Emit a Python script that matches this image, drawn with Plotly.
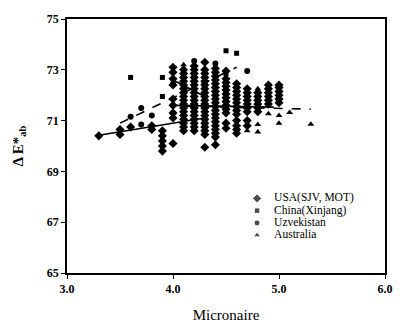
import plotly.graph_objects as go

# ---------------- data ----------------
usa_x = [3.3, 3.5, 3.5, 3.6, 3.8, 3.8, 3.9, 3.9, 3.9, 3.9, 3.9,
         4.0, 4.0, 4.0, 4.0, 4.0, 4.0, 4.0, 4.0, 4.0,
         4.1, 4.1, 4.1, 4.1, 4.1, 4.1, 4.1, 4.1, 4.1, 4.1, 4.1, 4.1, 4.1, 4.1, 4.1, 4.1, 4.1,
         4.2, 4.2, 4.2, 4.2, 4.2, 4.2, 4.2, 4.2, 4.2, 4.2, 4.2, 4.2, 4.2, 4.2, 4.2, 4.2, 4.2, 4.2,
         4.3, 4.3, 4.3, 4.3, 4.3, 4.3, 4.3, 4.3, 4.3, 4.3, 4.3, 4.3, 4.3, 4.3, 4.3, 4.3, 4.3, 4.3, 4.3, 4.3,
         4.4, 4.4, 4.4, 4.4, 4.4, 4.4, 4.4, 4.4, 4.4, 4.4, 4.4, 4.4, 4.4, 4.4, 4.4, 4.4, 4.4, 4.4, 4.4, 4.4,
         4.5, 4.5, 4.5, 4.5, 4.5, 4.5, 4.5, 4.5, 4.5, 4.5, 4.5, 4.5, 4.5,
         4.6, 4.6, 4.6, 4.6, 4.6, 4.6, 4.6, 4.6, 4.6, 4.6, 4.6, 4.6, 4.6,
         4.7, 4.7, 4.7, 4.7, 4.7, 4.7, 4.7, 4.7, 4.7,
         4.8, 4.8, 4.8, 4.8, 4.8, 4.8,
         4.9, 4.9, 4.9, 4.9, 4.9, 4.9,
         5.0, 5.0, 5.0, 5.0, 5.0, 5.0]
usa_y = [70.4, 70.45, 70.65, 70.75, 70.8, 70.65, 70.6, 70.4, 70.2, 70.0, 69.8,
         73.1, 72.9, 72.65, 72.4, 71.85, 71.6, 71.3, 71.1, 70.1,
         70.6, 70.75, 70.9, 71.05, 71.2, 71.35, 71.5, 71.65, 71.8, 71.95, 72.1, 72.25, 72.4, 72.55, 72.7, 72.85, 73.0,
         70.6, 70.75, 70.9, 71.05, 71.2, 71.35, 71.5, 71.65, 71.8, 71.95, 72.1, 72.25, 72.4, 72.55, 72.7, 72.85, 73.0, 73.15,
         69.95, 70.45, 70.6, 70.75, 70.9, 71.05, 71.2, 71.35, 71.5, 71.65, 71.8, 71.95, 72.1, 72.25, 72.4, 72.55, 72.7, 72.85, 73.0, 73.3,
         70.05, 70.35, 70.5, 70.65, 70.8, 70.95, 71.1, 71.25, 71.4, 71.55, 71.7, 71.85, 72.0, 72.15, 72.3, 72.45, 72.6, 72.75, 72.9, 73.05,
         70.7, 70.9, 71.3, 71.45, 71.6, 71.75, 71.9, 72.05, 72.2, 72.35, 72.5, 72.65, 72.95,
         70.5, 70.65, 70.8, 71.0, 71.25, 71.4, 71.55, 71.7, 71.85, 72.0, 72.15, 72.3, 72.45,
         70.8, 71.0, 71.35, 71.5, 71.65, 71.8, 71.95, 72.1, 72.25,
         71.5, 71.65, 71.8, 71.95, 72.1, 71.35,
         71.65, 71.8, 71.95, 72.1, 72.25, 72.4,
         71.7, 71.85, 72.0, 72.15, 72.3, 72.4]

uzb_x = [3.6, 3.7, 3.7, 3.8, 4.0, 4.2, 4.4, 4.7, 4.0]
uzb_y = [71.15, 71.5, 70.85, 71.2, 72.45, 73.35, 73.25, 72.95, 71.3]

chn_x = [3.6, 3.9, 3.9, 4.5, 4.6, 4.5]
chn_y = [72.7, 72.7, 71.95, 73.75, 73.65, 72.85]

aus_x = [4.1, 4.8, 4.7, 4.8, 4.8, 4.9, 5.0, 5.0, 5.1, 5.3]
aus_y = [73.2, 72.25, 70.6, 70.85, 70.55, 71.27, 71.2, 70.9, 71.32, 70.86]

# regression lines (end points)
fit_solid1_x = [3.3, 4.3]
fit_solid1_y = [70.42, 71.1]
fit_solid2_x = [4.0, 4.3]
fit_solid2_y = [72.6, 71.95]
fit_solid3_x = [4.0, 4.95]
fit_solid3_y = [71.6, 71.53]
fit_dash1_x = [3.5, 4.6]
fit_dash1_y = [70.9, 73.1]
fit_dash2_x = [4.1, 5.3]
fit_dash2_y = [71.57, 71.45]

legend_names = ["USA(SJV, MOT)", "China(Xinjang)", "Uzvekistan", "Australia"]
legend_symbols = ["diamond", "square", "circle", "triangle-up"]

# ---------------- figure ----------------
FONT = "Liberation Serif"
fig = go.Figure()

for lx, ly, dash in [(fit_solid1_x, fit_solid1_y, "solid"),
                     (fit_solid2_x, fit_solid2_y, "solid"),
                     (fit_dash2_x, fit_dash2_y, "dash"),
                     (fit_solid3_x, fit_solid3_y, "solid"),
                     (fit_dash1_x, fit_dash1_y, "dash")]:
    fig.add_trace(go.Scatter(x=lx, y=ly, mode="lines", showlegend=False,
                             line=dict(color="black", width=1.6, dash=dash)))

sizes = {"diamond": 7, "square": 5, "circle": 6, "triangle-up": 6}
for sx, sy, name, sym in [(usa_x, usa_y, legend_names[0], "diamond"),
                          (chn_x, chn_y, legend_names[1], "square"),
                          (uzb_x, uzb_y, legend_names[2], "circle"),
                          (aus_x, aus_y, legend_names[3], "triangle-up")]:
    fig.add_trace(go.Scatter(x=sx, y=sy, mode="markers", name=name, showlegend=False,
                             marker=dict(symbol=sym, color="black", size=sizes[sym])))

# compact legend drawn on its own hidden axes
legend_marker_size = {"diamond": 7, "square": 5.5, "circle": 6, "triangle-up": 6.5}
rows = list(range(len(legend_names)))
fig.add_trace(go.Scatter(x=[0] * len(rows), y=rows, mode="markers", showlegend=False,
                         xaxis="x2", yaxis="y2", hoverinfo="skip",
                         marker=dict(symbol=legend_symbols, color="black",
                                     size=[legend_marker_size[s] for s in legend_symbols])))
fig.add_trace(go.Scatter(x=[1.3] * len(rows), y=rows, mode="text", showlegend=False,
                         xaxis="x2", yaxis="y2", hoverinfo="skip",
                         text=legend_names, textposition="middle right",
                         textfont=dict(family=FONT, size=11.5, color="black")))

axis_common = dict(showline=True, linecolor="black", linewidth=1.5, mirror=True,
                   ticks="outside", ticklen=4, tickwidth=1.2, tickcolor="black", showgrid=False,
                   zeroline=False, tickfont=dict(family=FONT, size=12, color="black", weight="bold"))

fig.update_layout(
    width=405, height=333,
    margin=dict(l=67, r=12, t=18, b=46),
    paper_bgcolor="white", plot_bgcolor="white",
    font=dict(family=FONT, color="black"),
    xaxis=dict(range=[3, 6], dtick=1, tick0=3, tickformat=".1f",
               title=dict(text="Micronaire", font=dict(family=FONT, size=15), standoff=14),
               **axis_common),
    yaxis=dict(range=[65, 75], dtick=2, tick0=65,
               title=dict(text="<b>Δ E*<sub>ab</sub></b>", font=dict(family=FONT, size=15), standoff=20),
               **axis_common),
    xaxis2=dict(domain=[0.577, 0.99], range=[-0.5, 9.5], visible=False, fixedrange=True, anchor="y2"),
    yaxis2=dict(domain=[0.1245, 0.318], range=[3.5, -0.5], visible=False, fixedrange=True, anchor="x2"),
)

fig.write_html("out.html")
